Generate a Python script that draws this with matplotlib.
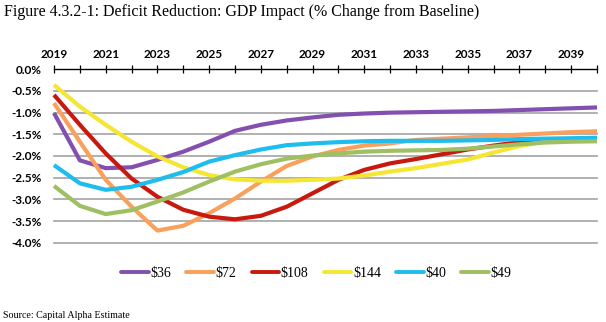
import matplotlib
matplotlib.use("Agg")
from matplotlib import pyplot as plt

years = list(range(2019, 2041))
series_names = ["$36", "$72", "$108", "$144", "$40", "$49"]
d36 = [-1.01, -2.10, -2.28, -2.26, -2.09, -1.90, -1.67, -1.42, -1.28, -1.18, -1.11,
       -1.05, -1.02, -1.00, -0.99, -0.98, -0.97, -0.96, -0.94, -0.92, -0.90, -0.88]
d72 = [-0.78, -1.67, -2.55, -3.17, -3.72, -3.61, -3.32, -2.98, -2.59, -2.23, -2.01,
       -1.86, -1.76, -1.71, -1.63, -1.60, -1.57, -1.54, -1.51, -1.48, -1.45, -1.43]
d108 = [-0.59, -1.28, -1.94, -2.52, -2.94, -3.24, -3.40, -3.46, -3.38, -3.17, -2.86,
        -2.55, -2.32, -2.17, -2.07, -1.96, -1.85, -1.76, -1.68, -1.64, -1.62, -1.61]
d144 = [-0.36, -0.86, -1.28, -1.67, -2.01, -2.26, -2.44, -2.54, -2.57, -2.57, -2.55,
        -2.52, -2.45, -2.36, -2.28, -2.18, -2.08, -1.92, -1.77, -1.67, -1.64, -1.62]
d40 = [-2.21, -2.63, -2.78, -2.71, -2.55, -2.37, -2.13, -1.98, -1.85, -1.75, -1.71,
       -1.68, -1.66, -1.65, -1.65, -1.65, -1.64, -1.63, -1.61, -1.60, -1.59, -1.58]
d49 = [-2.69, -3.15, -3.34, -3.25, -3.05, -2.84, -2.59, -2.36, -2.19, -2.06, -1.99,
       -1.94, -1.90, -1.88, -1.87, -1.86, -1.83, -1.78, -1.73, -1.69, -1.67, -1.66]
all_series = [d36, d72, d108, d144, d40, d49]
colors = ["#8350B0", "#F9A05C", "#C8190F", "#F5E633", "#1EBDEE", "#9EBF62"]

yticks = [0.0, -0.5, -1.0, -1.5, -2.0, -2.5, -3.0, -3.5, -4.0]
label_years = list(range(2019, 2041, 2))

fig = plt.figure(figsize=(6.06, 3.22), dpi=100)
ax = fig.add_axes([54 / 606, 1 - 242.7 / 322, 543 / 606, 173.4 / 322])

for vals, name, c in zip(all_series, series_names, colors):
    ax.plot(years, vals, color=c, lw=3.0, label=name, solid_capstyle="butt", clip_on=False)

ax.set_xlim(2019, 2040)
ax.set_ylim(-4.0, 0.0)

# gridlines (no line at 0, that one is the axis)
for v in yticks[1:]:
    ax.axhline(v, color="#A3A3A3", lw=1.2, zorder=0, clip_on=False)

ax.set_yticks(yticks)
ax.set_yticklabels([f"{v:.1f}%" for v in yticks], fontsize=8.5, family="Lato", weight="bold")
ax.tick_params(axis="y", length=0, pad=9)

ax.xaxis.tick_top()
ax.set_xticks(years)
ax.set_xticklabels([str(y) if y in label_years else "" for y in years],
                   fontsize=8.5, family="Lato", weight="bold")
ax.tick_params(axis="x", direction="inout", length=6, width=0.9, pad=4, color="black")

for s in ["left", "right", "bottom"]:
    ax.spines[s].set_visible(False)
ax.spines["top"].set_color("black")
ax.spines["top"].set_linewidth(1.0)

fig.text(0.006, 0.962, "Figure 4.3.2-1: Deficit Reduction: GDP Impact (% Change from Baseline)",
         family="Liberation Serif", fontsize=11.5, va="center", ha="left")

leg = fig.legend(loc="center", bbox_to_anchor=(0.522, 1 - 273 / 322), ncol=6, frameon=False,
                 prop={"family": "Liberation Serif", "size": 10}, handlelength=2.0,
                 handletextpad=0.1, columnspacing=1.1)
for h in leg.get_lines():
    h.set_solid_capstyle("round")
    h.set_linewidth(2.8)

fig.text(0.005, 1 - 315 / 322, "Source: Capital Alpha Estimate", family="Liberation Serif",
         fontsize=7.2, va="center", ha="left")

fig.savefig("out.png", dpi=100)
